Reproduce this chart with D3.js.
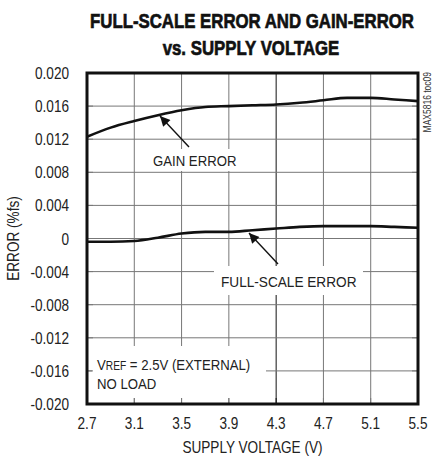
<!DOCTYPE html>
<html><head><meta charset="utf-8">
<script src="https://cdn.jsdelivr.net/npm/d3@7"></script>
<style>
html,body{margin:0;padding:0;background:#fff;}
svg{display:block;font-family:"Liberation Sans",Arial,sans-serif;}
</style></head>
<body><svg id="c" width="443" height="466"></svg>
<script>
const voltage = [2.7, 2.9, 3.1, 3.3, 3.5, 3.7, 3.9, 4.1, 4.3, 4.5, 4.7, 4.9, 5.1, 5.3, 5.5];
const gainError = [0.0123, 0.0134, 0.0142, 0.0149, 0.0155, 0.0159, 0.0160, 0.0161, 0.0162, 0.0164, 0.0167, 0.0170, 0.0170, 0.0168, 0.0166];
const fullScaleError = [-0.0004, -0.0004, -0.0003, 0.0001, 0.0006, 0.0008, 0.0008, 0.0010, 0.0012, 0.0014, 0.0015, 0.0015, 0.0015, 0.0014, 0.0013];
const xTicks = [2.7, 3.1, 3.5, 3.9, 4.3, 4.7, 5.1, 5.5];
const xTickLabels = ["2.7","3.1","3.5","3.9","4.3","4.7","5.1","5.5"];
const yTicks = [0.020, 0.016, 0.012, 0.008, 0.004, 0, -0.004, -0.008, -0.012, -0.016, -0.020];
const yTickLabels = ["0.020","0.016","0.012","0.008","0.004","0","-0.004","-0.008","-0.012","-0.016","-0.020"];

const L = 87, R = 418, T = 73, B = 404;
const x = d3.scaleLinear().domain([2.7, 5.5]).range([L, R]);
const y = d3.scaleLinear().domain([-0.020, 0.020]).range([B, T]);
const svg = d3.select("#c");
const SX = 0.85;

function ctext(px, py, str, size, anchor, opt) {
  opt = opt || {};
  const t = svg.append("text")
    .attr("transform", `translate(${px},${py})` + (opt.rot ? ` rotate(${opt.rot})` : "") + ` scale(${opt.sx || SX},1)`)
    .attr("text-anchor", anchor || "start")
    .attr("font-size", size)
    .attr("fill", opt.fill || "#222");
  if (opt.bold) t.attr("font-weight", "bold");
  if (opt.stroke) t.attr("stroke", opt.fill || "#222").attr("stroke-width", opt.stroke);
  if (str !== null) t.text(str);
  return t;
}

// title
ctext(252, 28, "FULL-SCALE ERROR  AND GAIN-ERROR", 21, "middle", { bold: true, fill: "#111", sx: 0.8, stroke: 0.7 });
ctext(251, 55, "vs. SUPPLY VOLTAGE", 21, "middle", { bold: true, fill: "#111", sx: 0.8, stroke: 0.7 });

// grid
const g = svg.append("g");
g.selectAll("line.v").data(xTicks.slice(1, -1)).enter().append("line")
  .attr("x1", d => x(d)).attr("x2", d => x(d)).attr("y1", T).attr("y2", B)
  .attr("stroke", d => d === 4.3 ? "#111" : "#777").attr("stroke-width", 1);
g.selectAll("line.h").data(yTicks.slice(1, -1)).enter().append("line")
  .attr("x1", L).attr("x2", R).attr("y1", d => y(d)).attr("y2", d => y(d))
  .attr("stroke", "#777").attr("stroke-width", 1);

// curves
const line = d3.line().x(d => x(d[0])).y(d => y(d[1])).curve(d3.curveMonotoneX);
svg.append("path").datum(voltage.map((v, i) => [v, gainError[i]]))
  .attr("d", line).attr("fill", "none").attr("stroke", "#111").attr("stroke-width", 2.6);
svg.append("path").datum(voltage.map((v, i) => [v, fullScaleError[i]]))
  .attr("d", line).attr("fill", "none").attr("stroke", "#111").attr("stroke-width", 2.6);

// label boxes masking grid
function box(x0, y0, x1, y1) {
  svg.append("rect").attr("x", x0).attr("y", y0).attr("width", x1 - x0).attr("height", y1 - y0).attr("fill", "#fff");
}
box(150, 149, 241, 171);
box(214, 266, 363, 295);
box(92, 346, 266, 398);

// tick stubs inside frame
const stub = 6;
svg.selectAll("line.tb").data(xTicks.slice(1, -1)).enter().append("line")
  .attr("x1", d => x(d)).attr("x2", d => x(d)).attr("y1", B - stub).attr("y2", B)
  .attr("stroke", d => d === 4.3 ? "#111" : "#777");
svg.selectAll("line.tl").data(yTicks.slice(1, -1)).enter().append("line")
  .attr("x1", L).attr("x2", L + stub).attr("y1", d => y(d)).attr("y2", d => y(d))
  .attr("stroke", "#777");
svg.selectAll("line.tr").data(yTicks.slice(1, -1)).enter().append("line")
  .attr("x1", R - stub).attr("x2", R).attr("y1", d => y(d)).attr("y2", d => y(d))
  .attr("stroke", "#777");

// annotations
ctext(153, 166, "GAIN ERROR", 15.5, "start");
ctext(221, 287, "FULL-SCALE ERROR", 15.5, "start", { sx: 0.88 });
const vt = ctext(97, 370, null, 15.5, "start");
vt.append("tspan").text("V");
vt.append("tspan").attr("font-size", 12).text("REF");
vt.append("tspan").text(" = 2.5V (EXTERNAL)");
ctext(97, 389, "NO LOAD", 15.5, "start");

// arrows
svg.append("defs").append("marker").attr("id", "ah").attr("viewBox", "0 0 10 10")
  .attr("refX", 10).attr("refY", 5).attr("markerWidth", 14).attr("markerHeight", 10)
  .attr("markerUnits", "userSpaceOnUse").attr("orient", "auto")
  .append("path").attr("d", "M0,0 L10,5 L0,10 Z").attr("fill", "#111");
svg.append("line").attr("x1", 189).attr("y1", 147).attr("x2", 160).attr("y2", 116)
  .attr("stroke", "#111").attr("stroke-width", 1.4).attr("marker-end", "url(#ah)");
svg.append("line").attr("x1", 278).attr("y1", 264).attr("x2", 249).attr("y2", 233)
  .attr("stroke", "#111").attr("stroke-width", 1.4).attr("marker-end", "url(#ah)");

// frame
svg.append("rect").attr("x", L).attr("y", T).attr("width", R - L).attr("height", B - T)
  .attr("fill", "none").attr("stroke", "#111").attr("stroke-width", 3);

// tick labels
xTicks.forEach((d, i) => ctext(x(d), 429, xTickLabels[i], 16, "middle"));
yTicks.forEach((d, i) => ctext(69, y(d) + 6, yTickLabels[i], 16, "end"));

// axis titles
ctext((L + R) / 2, 453, "SUPPLY VOLTAGE (V)", 16, "middle");
ctext(19, (T + B) / 2, "ERROR (%fs)", 16, "middle", { rot: -90 });
ctext(431, 72, "MAX5816 toc09", 10, "end", { rot: -90, fill: "#333" });
</script></body></html>
